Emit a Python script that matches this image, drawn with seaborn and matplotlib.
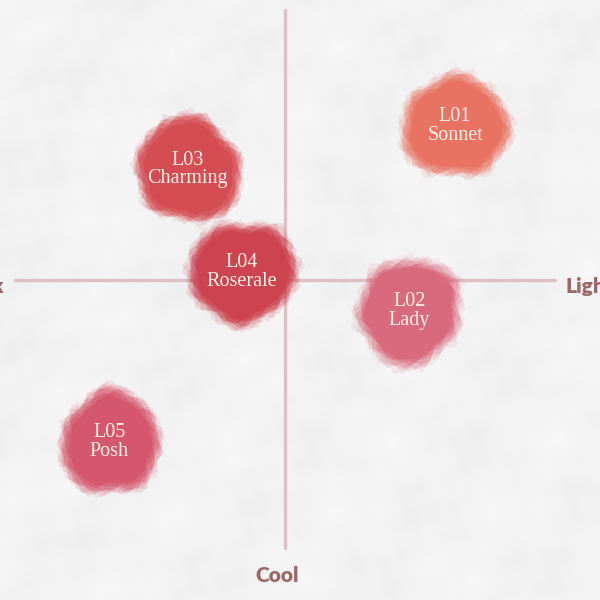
import numpy as np
import pandas as pd
import matplotlib
matplotlib.use("Agg")
import matplotlib.pyplot as plt
from matplotlib.path import Path
import seaborn as sns

# Shade map: lightness (dark -> light) against undertone (cool -> warm), both on a -10..10 scale
codes = ["L01", "L02", "L03", "L04", "L05"]
names = ["Sonnet", "Lady", "Charming", "Roserale", "Posh"]
lightness = [6.3, 4.6, -3.6, -1.6, -6.5]
undertone = [5.7, -1.15, 4.1, 0.3, -6.0]
swatches = ["#e9705f", "#d9677b", "#d4494f", "#cd404d", "#d4546a"]

axis_names = {"Dark": (-10.4, -0.25), "Light": (10.4, -0.25), "Cool": (-0.3, -10.95)}

df = pd.DataFrame({"code": codes, "name": names, "x": lightness, "y": undertone, "color": swatches})

sns.set_theme(style="white")
fig = plt.figure(figsize=(6, 6), dpi=100)
ax = fig.add_axes([0, 0, 1, 1])
ax.set_xlim(-285 / 27, 315 / 27)
ax.set_ylim(-320 / 27, 280 / 27)
ax.set_axis_off()

# crumpled-paper backdrop
gx, gy = np.meshgrid(np.linspace(0, 1, 600), np.linspace(0, 1, 600))
wr = (0.5 * np.sin(23 * gx + 9 * gy + 1.3 * np.sin(7 * gy))
      + 0.35 * np.sin(41 * gy - 15 * gx + 2.0 * np.sin(5 * gx))
      + 0.25 * np.sin(71 * gx + 37 * gy + 3 * np.sin(11 * gy))
      + 0.2 * np.sin(113 * gy + 21 * gx + np.sin(17 * gx))
      + 0.15 * np.sin(157 * gx - 61 * gy))
shade = np.clip((243 + 3.2 * wr) / 255, 0, 1)
ax.imshow(np.dstack([shade, shade, shade]), extent=(*ax.get_xlim(), *ax.get_ylim()),
          aspect="auto", zorder=0, interpolation="bilinear")

# quadrant axes
sns.lineplot(x=[-10, 10], y=[0, 0], color="#dcc0c3", lw=2.4, ax=ax, zorder=1)
sns.lineplot(x=[0, 0], y=[-9.93, 10], color="#dcc0c3", lw=2.4, ax=ax, zorder=1,
             orient="y")


def blob(shape_seed, edge_seed, jag):
    """Lobed watercolour outline; the lobes stay fixed per swatch, the fringe varies."""
    t = np.linspace(0, 2 * np.pi, 400, endpoint=False)
    p = shape_seed * 1.37
    q = edge_seed * 2.11
    r = (1 + 0.035 * np.sin(2 * t + p) + 0.035 * np.sin(3 * t + 2.3 * p)
         + 0.03 * np.sin(5 * t + 0.7 * p) + 0.02 * np.sin(7 * t + 1.9 * p)
         + jag * (np.sin(11 * t + q) + 0.8 * np.sin(17 * t + 1.7 * q)
                  + 0.6 * np.sin(26 * t + 0.4 * q) + 0.4 * np.sin(41 * t + 2.6 * q)))
    verts = np.column_stack([r * np.cos(t), r * np.sin(t)])
    verts = np.vstack([verts, verts[:1]])
    return Path(verts, closed=True)


layers = [(90, 0.10, 0.035), (87, 0.14, 0.03), (84, 0.2, 0.028), (81, 0.28, 0.025),
          (78, 0.38, 0.02), (74, 0.55, 0.015), (69, 0.8, 0.01)]

for i, row in df.iterrows():
    for k, (size, alpha, jag) in enumerate(layers):
        sns.scatterplot(x=[row.x], y=[row.y], marker=blob(i * 3 + 1, i * 7 + k * 5, jag),
                        s=size ** 2, color=row.color, alpha=alpha, linewidth=0, ax=ax,
                        zorder=3, legend=False)
    ax.text(row.x, row.y, f"{row.code}\n{row['name']}", ha="center", va="center",
            family="Liberation Serif", fontsize=14.5, color="#fdf1ea", linespacing=0.95,
            zorder=5)

for label, (tx, ty) in axis_names.items():
    ha = "right" if label == "Dark" else ("left" if label == "Light" else "center")
    ax.text(tx, ty, label, ha=ha, va="center", family="Lato", fontweight="heavy",
            fontsize=15, color="#9b6767", zorder=4)

fig.savefig("out.png", dpi=100)
